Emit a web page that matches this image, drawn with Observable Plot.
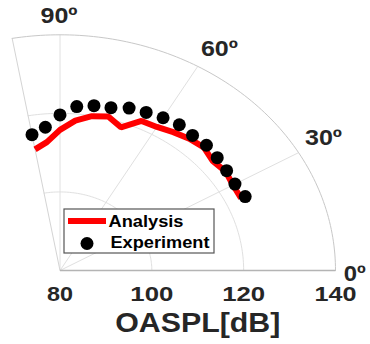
<!DOCTYPE html>
<html><head><meta charset="utf-8">
<script src="https://cdn.jsdelivr.net/npm/d3@7"></script>
<script src="https://cdn.jsdelivr.net/npm/@observablehq/plot@0.6"></script>
<style>body{margin:0;background:#fff}</style>
</head><body><div id="chart"></div>
<script>
// ---- data ----
const angles = [100,95,90,85,80,75,70,65,60,55,50,45,40,35,30,25];
const analysis = [111.3,112.8,115.8,118.3,119.9,120.6,118.8,122.0,122.2,123.0,123.8,124.3,123.4,124.0,123.5,123.5];
const experiment = [115.1,116.6,119.6,121.9,122.6,122.9,124.0,124.4,124.9,125.3,124.9,125.1,124.7,124.3,124.0,124.5];
const rTicks = [80,100,120,140];
const thetaTicks = [0,30,60,90];
const thetaLabels = ["0º","30º","60º","90º"];
const seriesNames = ["Analysis","Experiment"];
const axisTitle = "OASPL[dB]";
const thetaMax = 100, rMin = 80, rMax = 140;

// ---- helpers ----
const rad = t => t * Math.PI / 180;
const X = (t, r) => (r - rMin) * Math.cos(rad(t));
const Y = (t, r) => (r - rMin) * Math.sin(rad(t));

const analysisData = angles.map((t, i) => ({t, r: analysis[i]}));
const experimentData = angles.map((t, i) => ({t, r: experiment[i]}));

const arcSteps = d3.range(0, thetaMax + 0.01, 1);
const arcData = rTicks.filter(r => r > rMin).flatMap(r => arcSteps.map(t => ({r, t})));
const spokes = [...thetaTicks, thetaMax];

// layout: label nudges and rendered text widths (px) to mimic the stretched reference
const labelNudge = {0: [-6, 3], 30: [3, -4], 60: [9, 1], 90: [-1, 2.5]};
const textWidth = {"80": 26, "100": 43, "120": 43, "140": 42, "OASPL[dB]": 165,
  "0º": 22, "30º": 37, "60º": 37, "90º": 37, "Analysis": 75, "Experiment": 99};

const font = "Arial, 'Liberation Sans', sans-serif";
const txt = "#262626";

const marks = [
  Plot.line(arcData.filter(d => d.r < rMax), {x: d => X(d.t, d.r), y: d => Y(d.t, d.r), z: "r", stroke: "#e0e0e0", strokeWidth: 1}),
  Plot.link(spokes.filter(t => t > 0 && t < thetaMax), {x1: 0, y1: 0, x2: t => X(t, rMax), y2: t => Y(t, rMax), stroke: "#e0e0e0", strokeWidth: 1}),
  Plot.link([thetaMax], {x1: 0, y1: 0, x2: t => X(t, rMax), y2: t => Y(t, rMax), stroke: "#d4d4d4", strokeWidth: 1}),
  Plot.line(arcData.filter(d => d.r === rMax), {x: d => X(d.t, d.r), y: d => Y(d.t, d.r), stroke: "#c8c8c8", strokeWidth: 1}),
  Plot.link([0], {x1: 0, y1: 0, x2: t => X(t, rMax), y2: t => Y(t, rMax), stroke: "#b4b4b4", strokeWidth: 1.6}),
  Plot.line(analysisData, {x: d => X(d.t, d.r), y: d => Y(d.t, d.r), stroke: "#ff0000", strokeWidth: 6, strokeLinejoin: "miter", strokeLinecap: "butt"}),
  Plot.dot(experimentData, {x: d => X(d.t, d.r), y: d => Y(d.t, d.r), r: 6.5, fill: "#000", stroke: "none"}),
  Plot.text(rTicks, {x: d => d - rMin, y: 0, text: d => String(d), dy: 24.5, fontSize: 19.5, fontWeight: "bold", fill: txt}),
  Plot.text([axisTitle], {x: (rMax - rMin) / 2, y: 0, text: d => d, dy: 53, fontSize: 27, fontWeight: "bold", fill: txt}),
  ...thetaTicks.map((t, i) => Plot.text([t], {x: d => X(d, rMin + 65.5), y: d => Y(d, rMin + 65.5), text: () => thetaLabels[i], dx: labelNudge[t][0], dy: labelNudge[t][1], fontSize: 22, fontWeight: "bold", fill: txt}))
];

const chart = Plot.plot({
  width: 370, height: 344,
  margin: 0,
  x: {domain: [0, rMax - rMin], range: [59.5, 335], axis: null},
  y: {domain: [0, rMax - rMin], range: [270, 34.3], axis: null},
  style: {fontFamily: font, background: "#fff"},
  marks
});

// legend (layout)
const svg = d3.select(chart);
const lg = svg.append("g").attr("aria-label", "legend");
lg.append("rect").attr("x", 64).attr("y", 209).attr("width", 150).attr("height", 44)
  .attr("fill", "#fff").attr("stroke", "#555").attr("stroke-width", 1.2);
lg.append("line").attr("x1", 68).attr("x2", 106).attr("y1", 221).attr("y2", 221)
  .attr("stroke", "#ff0000").attr("stroke-width", 6);
lg.append("circle").attr("cx", 87).attr("cy", 243.5).attr("r", 6.5).attr("fill", "#000");
const lgText = [{name: seriesNames[0], x: 108.5, y: 221.5}, {name: seriesNames[1], x: 110.5, y: 242.5}];
lg.selectAll("text.lt").data(lgText).join("text")
  .attr("x", d => d.x).attr("y", d => d.y)
  .attr("dy", "0.35em")
  .attr("text-anchor", "start")
  .attr("font-size", 15.8).attr("font-weight", "bold").attr("fill", "#000")
  .attr("font-family", font)
  .text(d => d.name);

// stretch texts horizontally to the reference widths
svg.selectAll("text").each(function() {
  const w = textWidth[this.textContent];
  if (w) {
    this.setAttribute("textLength", w);
    this.setAttribute("lengthAdjust", "spacingAndGlyphs");
  }
});

document.getElementById("chart").append(chart);
</script>
</body></html>
